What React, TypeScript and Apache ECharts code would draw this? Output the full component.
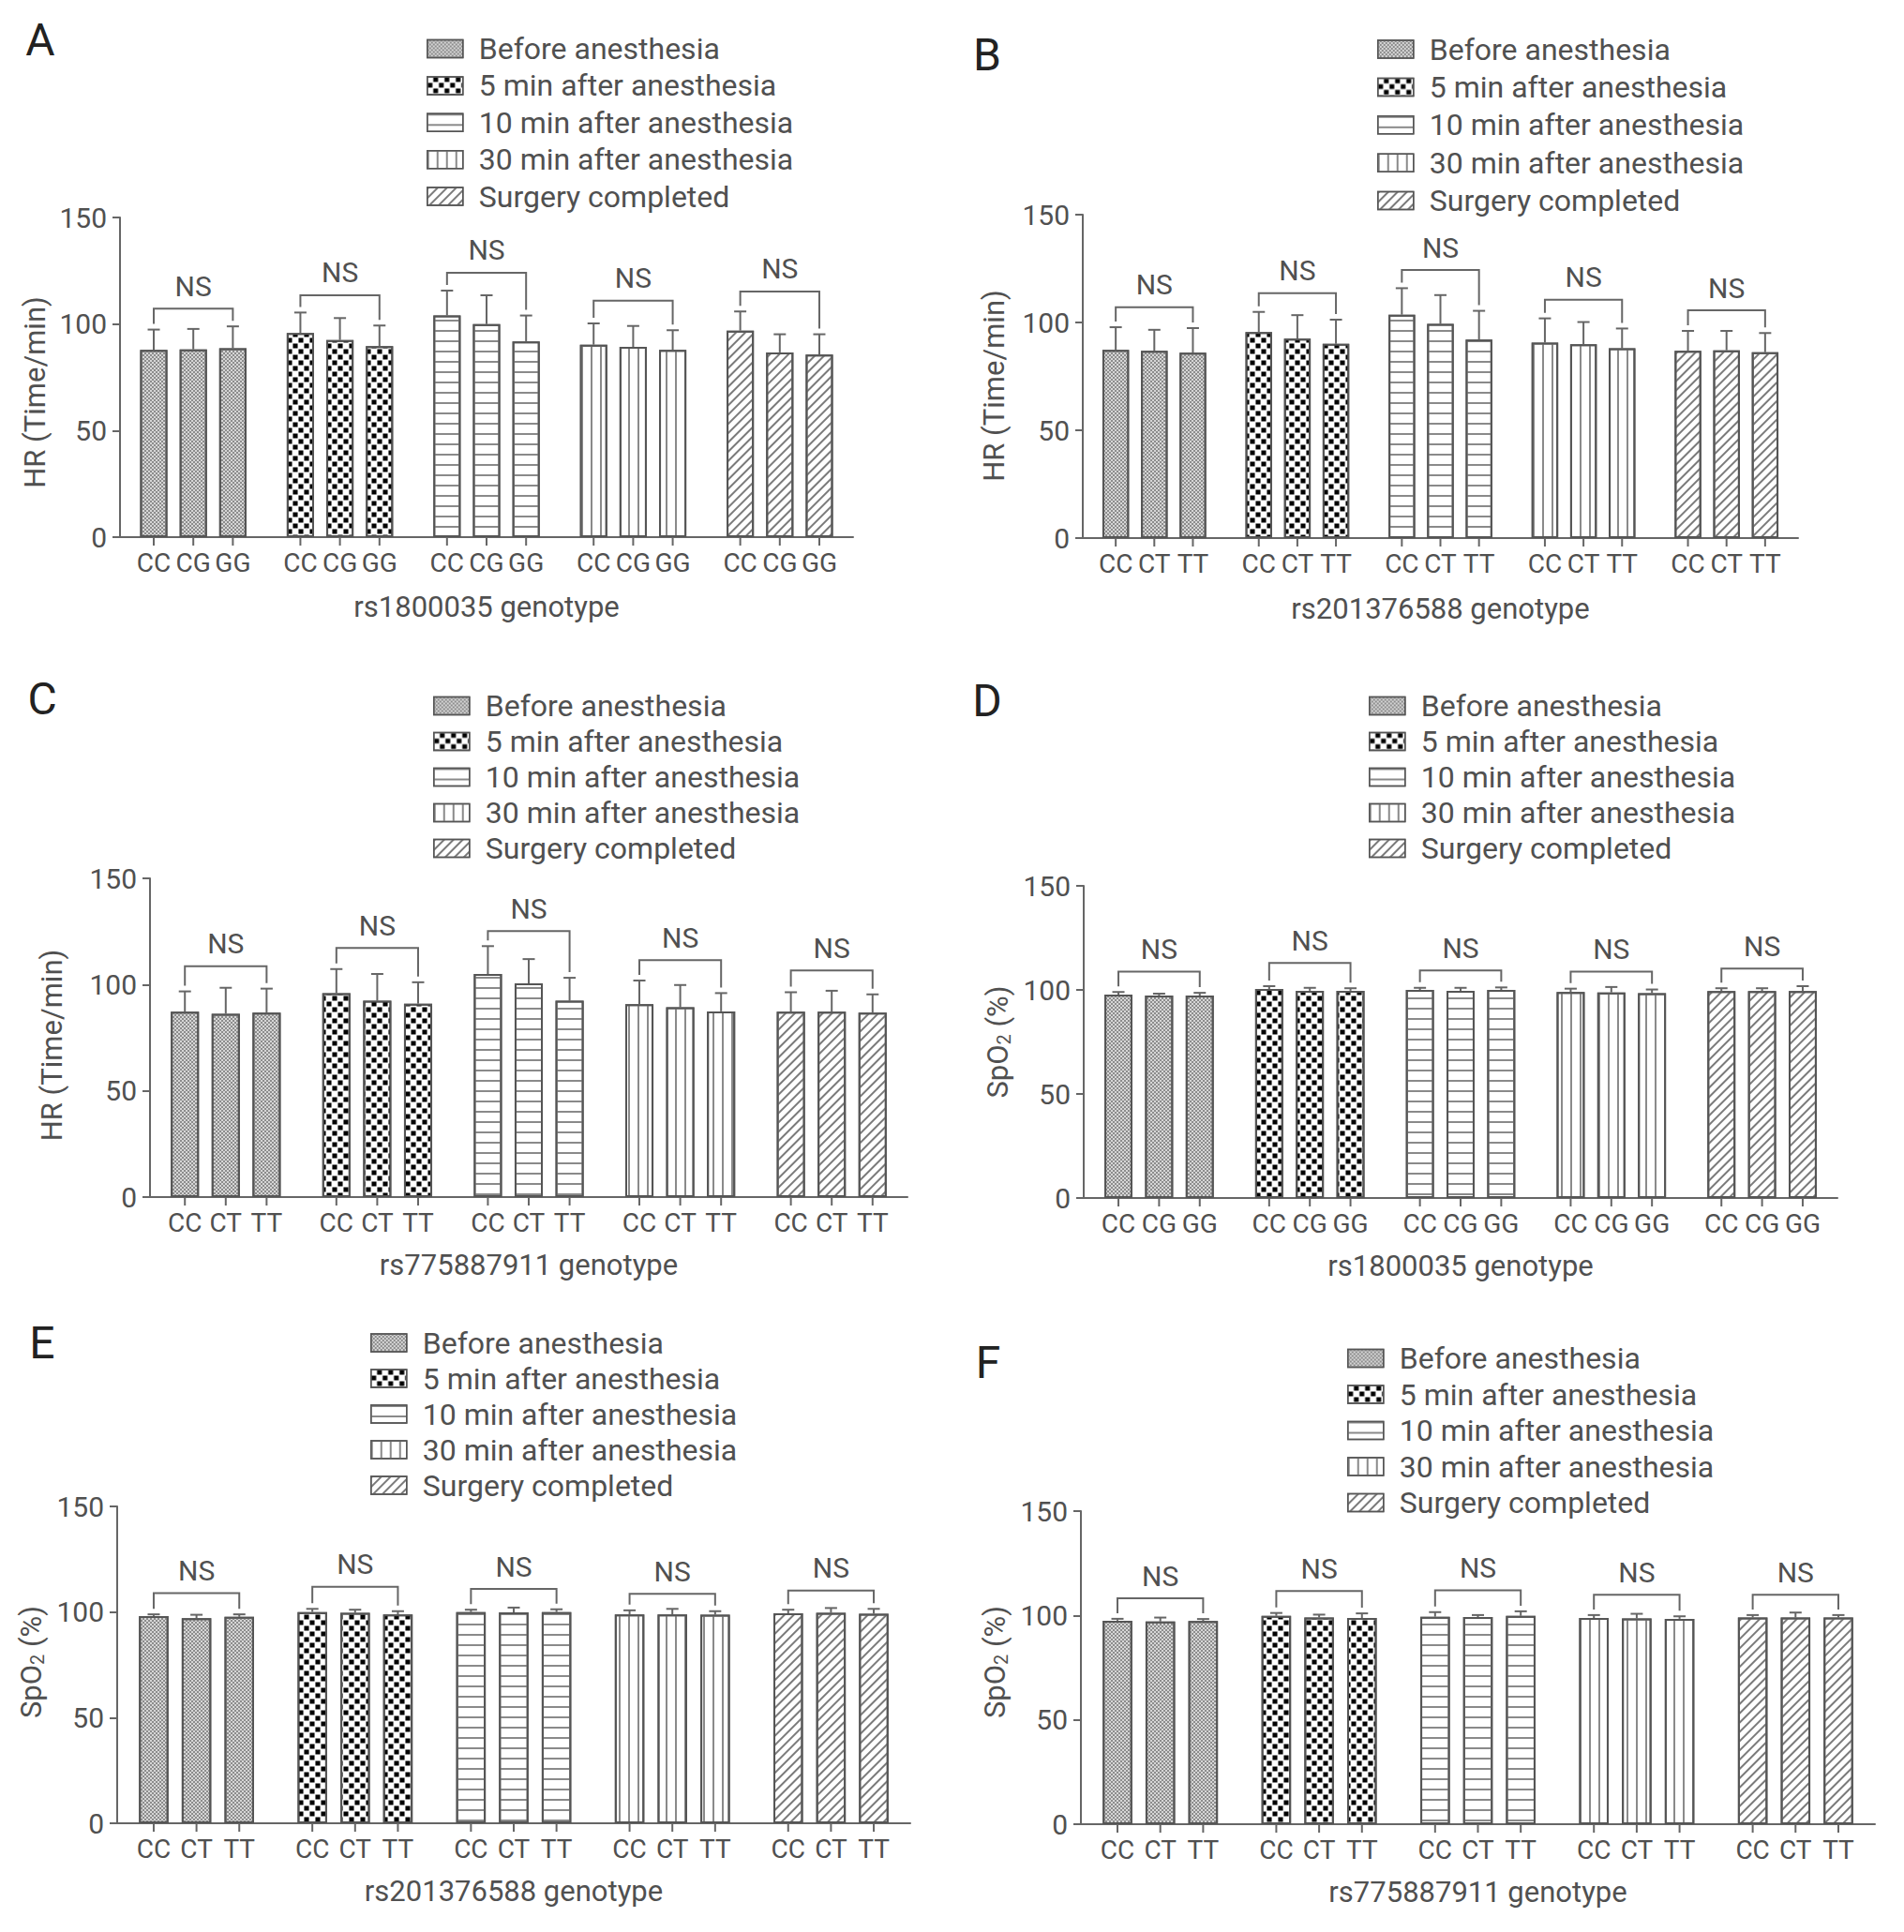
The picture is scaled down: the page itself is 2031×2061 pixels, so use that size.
import React, { useEffect, useRef } from 'react'
import * as echarts from 'echarts'
import type { EChartsOption } from 'echarts'

// ---- data ----
const TIMEPOINTS = [
  'Before anesthesia',
  '5 min after anesthesia',
  '10 min after anesthesia',
  '30 min after anesthesia',
  'Surgery completed',
]
const GENO_RS1800035 = ['CC', 'CG', 'GG']
const GENO_RS201376588 = ['CC', 'CT', 'TT']
const GENO_RS775887911 = ['CC', 'CT', 'TT']
const Y_TICKS = [0, 50, 100, 150]

// rows = timepoints, columns = genotypes
const HR_RS1800035_MEAN = [
  [87.9, 88.1, 88.6],
  [95.8, 92.5, 89.6],
  [104.0, 100.0, 91.8],
  [90.3, 89.3, 87.9],
  [96.9, 86.7, 85.7],
]
const HR_RS1800035_SD = [
  [9.5, 9.6, 10.3],
  [9.6, 10.3, 9.7],
  [11.7, 13.5, 12.2],
  [10.0, 9.8, 9.2],
  [9.0, 8.5, 9.5],
]
const HR_RS1800035_NS = [107.2, 113.5, 124.1, 111.0, 115.3]

const HR_RS201376588_MEAN = [
  [87.3, 86.9, 86.0],
  [95.5, 92.5, 90.1],
  [103.6, 99.3, 92.1],
  [90.7, 89.9, 88.0],
  [86.9, 87.1, 86.2],
]
const HR_RS201376588_SD = [
  [10.5, 9.7, 11.4],
  [9.4, 10.9, 11.2],
  [12.3, 13.4, 13.3],
  [11.2, 10.3, 9.2],
  [9.2, 9.0, 8.9],
]
const HR_RS201376588_NS = [107.1, 113.6, 124.3, 110.5, 105.6]

const HR_RS775887911_MEAN = [
  [87.2, 86.3, 86.8],
  [96.0, 92.4, 91.0],
  [105.0, 100.6, 92.4],
  [90.8, 89.3, 87.4],
  [87.2, 87.2, 86.8],
]
const HR_RS775887911_SD = [
  [9.6, 12.2, 11.3],
  [11.3, 12.6, 10.1],
  [13.1, 11.4, 10.8],
  [11.1, 10.5, 8.6],
  [9.2, 9.9, 8.6],
]
const HR_RS775887911_NS = [108.6, 117.2, 125.2, 111.5, 106.7]

const SPO2_RS1800035_MEAN = [
  [97.7, 97.3, 97.3],
  [100.4, 99.6, 99.6],
  [100.0, 99.6, 100.0],
  [99.0, 98.8, 98.4],
  [99.4, 99.4, 99.4],
]
const SPO2_RS1800035_SD = [
  [1.3, 0.9, 1.3],
  [1.4, 1.4, 1.2],
  [1.0, 1.4, 1.2],
  [1.6, 2.6, 1.8],
  [1.4, 1.4, 2.4],
]
const SPO2_RS1800035_NS = [108.8, 113.0, 109.3, 108.8, 110.3]

const SPO2_RS201376588_MEAN = [
  [98.1, 97.1, 97.7],
  [100.0, 99.6, 98.9],
  [100.0, 99.8, 100.0],
  [98.9, 98.9, 98.7],
  [99.4, 99.6, 99.2],
]
const SPO2_RS201376588_SD = [
  [0.8, 1.6, 1.2],
  [1.5, 1.5, 1.5],
  [1.1, 2.3, 1.3],
  [1.9, 2.6, 1.7],
  [1.7, 2.3, 2.3],
]
const SPO2_RS201376588_NS = [109.0, 111.9, 110.9, 108.6, 110.2]

const SPO2_RS775887911_MEAN = [
  [97.5, 97.1, 97.3],
  [99.8, 99.0, 98.8],
  [99.4, 99.2, 99.8],
  [98.8, 98.6, 98.4],
  [99.0, 99.0, 99.0],
]
const SPO2_RS775887911_SD = [
  [0.9, 1.9, 1.0],
  [1.4, 1.4, 2.2],
  [2.2, 1.0, 2.2],
  [1.4, 2.2, 1.2],
  [1.2, 2.4, 1.2],
]
const SPO2_RS775887911_NS = [108.2, 111.7, 112.0, 109.9, 109.9]

// ---- styles ----
const FONT = 'Roboto, "Liberation Sans", Arial, sans-serif'
const TEXT = '#505050'
const LINE = '#666'
const BAR_W = 0.186
const BAR_GAP = 0.45

const PATTERNS: any[] = [
  {
    color: '#d6d6d6',
    decal: { symbol: 'rect', symbolSize: 1, color: '#8c8c8c', dashArrayX: [[2, 2], [0, 2, 2, 0]], dashArrayY: [2, 0] },
  },
  {
    color: '#ffffff',
    decal: { symbol: 'rect', symbolSize: 0.85, color: '#000', dashArrayX: [[6, 6], [0, 6, 6, 0]], dashArrayY: [6, 0] },
  },
  {
    color: '#ffffff',
    decal: { symbol: 'rect', symbolSize: 1, color: '#8a8a8a', dashArrayX: [1, 0], dashArrayY: [2, 9] },
  },
  {
    color: '#ffffff',
    decal: { symbol: 'rect', symbolSize: 1, color: '#8a8a8a', dashArrayX: [2, 8], dashArrayY: [1, 0] },
  },
  {
    color: '#ffffff',
    decal: { symbol: 'rect', symbolSize: 1, color: '#7a7a7a', dashArrayX: [1, 0], dashArrayY: [1.5, 4.5], rotation: -Math.PI / 4 },
  },
]

interface PanelCfg {
  letter: string
  left: number
  top: number
  width: number
  height: number
  grid: { left: number; top: number; width: number; height: number }
  legend: { left: number; top: number; gap: number }
  letterAt: [number, number]
  yName: string
  yGap: number
  yShift: number
  xName: string
  xGap: number
  genos: string[]
  mean: number[][]
  sd: number[][]
  ns: number[]
}

const PANELS: PanelCfg[] = [
  {
    letter: 'A', left: 0, top: 0, width: 1015, height: 690,
    grid: { left: 128, top: 232, width: 782, height: 341 },
    legend: { left: 450, top: 31, gap: 7.4 }, letterAt: [43, 42],
    yName: 'HR (Time/min)', yGap: 73, yShift: 16,
    xName: 'rs1800035 genotype', xGap: 59,
    genos: GENO_RS1800035, mean: HR_RS1800035_MEAN, sd: HR_RS1800035_SD, ns: HR_RS1800035_NS,
  },
  {
    letter: 'B', left: 1015, top: 0, width: 1016, height: 690,
    grid: { left: 140, top: 229, width: 763, height: 345 },
    legend: { left: 449, top: 31.5, gap: 8.4 }, letterAt: [38, 58],
    yName: 'HR (Time/min)', yGap: 79, yShift: 10,
    xName: 'rs201376588 genotype', xGap: 60,
    genos: GENO_RS201376588, mean: HR_RS201376588_MEAN, sd: HR_RS201376588_SD, ns: HR_RS201376588_NS,
  },
  {
    letter: 'C', left: 0, top: 690, width: 1015, height: 690,
    grid: { left: 160, top: 247, width: 808, height: 340 },
    legend: { left: 457, top: 42, gap: 6 }, letterAt: [45, 55],
    yName: 'HR (Time/min)', yGap: 89, yShift: 8,
    xName: 'rs775887911 genotype', xGap: 57,
    genos: GENO_RS775887911, mean: HR_RS775887911_MEAN, sd: HR_RS775887911_SD, ns: HR_RS775887911_NS,
  },
  {
    letter: 'D', left: 1015, top: 690, width: 1016, height: 690,
    grid: { left: 141, top: 255, width: 804, height: 333 },
    legend: { left: 440, top: 42, gap: 6 }, letterAt: [38, 57],
    yName: 'SpO{sub|2} (%)', yGap: 75, yShift: 0,
    xName: 'rs1800035 genotype', xGap: 57,
    genos: GENO_RS1800035, mean: SPO2_RS1800035_MEAN, sd: SPO2_RS1800035_SD, ns: SPO2_RS1800035_NS,
  },
  {
    letter: 'E', left: 0, top: 1380, width: 1015, height: 681,
    grid: { left: 125, top: 227, width: 846, height: 338 },
    legend: { left: 390, top: 31.5, gap: 6 }, letterAt: [45, 52],
    yName: 'SpO{sub|2} (%)', yGap: 68, yShift: -3,
    xName: 'rs201376588 genotype', xGap: 57,
    genos: GENO_RS201376588, mean: SPO2_RS201376588_MEAN, sd: SPO2_RS201376588_SD, ns: SPO2_RS201376588_NS,
  },
  {
    letter: 'F', left: 1015, top: 1380, width: 1016, height: 681,
    grid: { left: 138, top: 232, width: 847, height: 334 },
    legend: { left: 417, top: 48, gap: 6.5 }, letterAt: [39, 73],
    yName: 'SpO{sub|2} (%)', yGap: 75, yShift: -6,
    xName: 'rs775887911 genotype', xGap: 57,
    genos: GENO_RS775887911, mean: SPO2_RS775887911_MEAN, sd: SPO2_RS775887911_SD, ns: SPO2_RS775887911_NS,
  },
]

function buildOption(cfg: PanelCfg): EChartsOption {
  const bars: any[] = []
  TIMEPOINTS.forEach((tp, t) => {
    cfg.genos.forEach((g, k) => {
      bars.push({
        type: 'bar',
        name: tp,
        stack: g,
        barWidth: `${BAR_W * 100}%`,
        barGap: `${BAR_GAP * 100}%`,
        data: TIMEPOINTS.map((_, i) => (i === t ? cfg.mean[t][k] : '-')),
        itemStyle: {
          color: PATTERNS[t].color,
          decal: PATTERNS[t].decal,
          borderColor: '#555',
          borderWidth: 2,
        },
        label: {
          show: true,
          position: 'bottom',
          distance: 13,
          formatter: g,
          fontFamily: FONT,
          fontSize: 28,
          lineHeight: 28,
          color: TEXT,
        },
        emphasis: { disabled: true },
      })
    })
  })

  const errData: number[][] = []
  TIMEPOINTS.forEach((_, t) => {
    cfg.genos.forEach((__, k) => {
      errData.push([t, k, cfg.mean[t][k], cfg.sd[t][k]])
    })
  })
  const nsData = cfg.ns.map((v, t) => [
    t,
    v,
    cfg.mean[t][0] + cfg.sd[t][0],
    cfg.mean[t][2] + cfg.sd[t][2],
  ])

  const lineStyle = { stroke: LINE, lineWidth: 2 }

  const errSeries: any = {
    type: 'custom',
    silent: true,
    z: 5,
    encode: { x: 0, y: 2 },
    data: errData,
    renderItem: (_p: any, api: any) => {
      const t = api.value(0)
      const k = api.value(1)
      const m = api.value(2)
      const s = api.value(3)
      const band = api.size([1, 0])[0]
      const x = api.coord([t, 0])[0] + (k - 1) * band * BAR_W * (1 + BAR_GAP)
      const y0 = api.coord([t, 0])[1]
      const yM = api.coord([t, m])[1]
      const yT = api.coord([t, m + s])[1]
      return {
        type: 'group',
        children: [
          { type: 'line', shape: { x1: x, y1: yM, x2: x, y2: yT }, style: lineStyle },
          { type: 'line', shape: { x1: x - 6.5, y1: yT, x2: x + 6.5, y2: yT }, style: lineStyle },
          { type: 'line', shape: { x1: x, y1: y0, x2: x, y2: y0 + 9 }, style: lineStyle },
        ],
      }
    },
  }

  const nsSeries: any = {
    type: 'custom',
    silent: true,
    z: 5,
    encode: { x: 0, y: 1 },
    data: nsData,
    renderItem: (_p: any, api: any) => {
      const t = api.value(0)
      const band = api.size([1, 0])[0]
      const off = band * BAR_W * (1 + BAR_GAP)
      const cx = api.coord([t, 0])[0]
      const yB = api.coord([t, api.value(1)])[1]
      const yL = api.coord([t, api.value(2)])[1] - 6
      const yR = api.coord([t, api.value(3)])[1] - 6
      return {
        type: 'group',
        children: [
          {
            type: 'polyline',
            shape: { points: [[cx - off, yL], [cx - off, yB], [cx + off, yB], [cx + off, yR]] },
            style: { stroke: LINE, lineWidth: 2, fill: null },
          },
          {
            type: 'text',
            x: cx,
            y: yB - 9,
            style: {
              text: 'NS',
              fontFamily: FONT,
              fontSize: 30,
              fill: TEXT,
              align: 'center',
              verticalAlign: 'bottom',
              textAlign: 'center',
              textVerticalAlign: 'bottom',
            },
          },
        ],
      }
    },
  }

  const shift = cfg.yShift
  const yPad = shift >= 0 ? [0, shift * 2, 0, 0] : [0, 0, 0, -shift * 2]

  return {
    animation: false,
    backgroundColor: '#ffffff',
    textStyle: { fontFamily: FONT },
    graphic: [
      {
        type: 'text',
        x: cfg.letterAt[0],
        y: cfg.letterAt[1],
        style: {
          text: cfg.letter,
          fontFamily: FONT,
          fontSize: 48,
          fill: '#222',
          align: 'center',
          verticalAlign: 'middle',
          textAlign: 'center',
          textVerticalAlign: 'middle',
        } as any,
      },
    ],
    legend: {
      orient: 'vertical',
      left: cfg.legend.left,
      top: cfg.legend.top,
      itemGap: cfg.legend.gap,
      itemWidth: 38,
      itemHeight: 19,
      icon: 'rect',
      selectedMode: false,
      data: TIMEPOINTS,
      itemStyle: { borderColor: '#555', borderWidth: 1.5 },
      textStyle: {
        fontFamily: FONT,
        fontSize: 32,
        lineHeight: 32,
        color: TEXT,
        padding: [0, 0, 0, 12],
      },
    },
    grid: { ...cfg.grid, containLabel: false },
    xAxis: {
      type: 'category',
      data: TIMEPOINTS,
      axisLine: { lineStyle: { color: LINE, width: 2 } },
      axisTick: { show: false },
      axisLabel: { show: false },
      splitLine: { show: false },
      name: cfg.xName,
      nameLocation: 'middle',
      nameGap: cfg.xGap,
      nameTextStyle: { fontFamily: FONT, fontSize: 31, color: TEXT },
    },
    yAxis: {
      type: 'value',
      min: Y_TICKS[0],
      max: Y_TICKS[Y_TICKS.length - 1],
      interval: Y_TICKS[1] - Y_TICKS[0],
      axisLine: { show: true, lineStyle: { color: LINE, width: 2 } },
      axisTick: { show: true, length: 8, lineStyle: { color: LINE, width: 2 } },
      axisLabel: { fontFamily: FONT, fontSize: 30, color: TEXT, margin: 14 },
      splitLine: { show: false },
      name: cfg.yName,
      nameLocation: 'middle',
      nameGap: cfg.yGap,
      nameTextStyle: {
        fontFamily: FONT,
        fontSize: 31,
        color: TEXT,
        padding: yPad,
        rich: {
          sub: { fontFamily: FONT, fontSize: 20, color: TEXT, verticalAlign: 'bottom', padding: [12, 0, 0, 0] },
        },
      } as any,
    },
    series: [...bars, errSeries, nsSeries],
  }
}

function Panel({ cfg }: { cfg: PanelCfg }) {
  const ref = useRef<HTMLDivElement | null>(null)

  useEffect(() => {
    if (!ref.current) return
    const chart = echarts.init(ref.current, undefined, { renderer: 'svg' })
    chart.setOption(buildOption(cfg))
    return () => {
      chart.dispose()
    }
  }, [cfg])

  return (
    <div
      ref={ref}
      style={{ position: 'absolute', left: cfg.left, top: cfg.top, width: cfg.width, height: cfg.height }}
    />
  )
}

export default function App() {
  return (
    <div style={{ position: 'absolute', left: 0, top: 0, width: 2031, height: 2061, background: '#fff' }}>
      {PANELS.map((p) => (
        <Panel key={p.letter} cfg={p} />
      ))}
    </div>
  )
}
